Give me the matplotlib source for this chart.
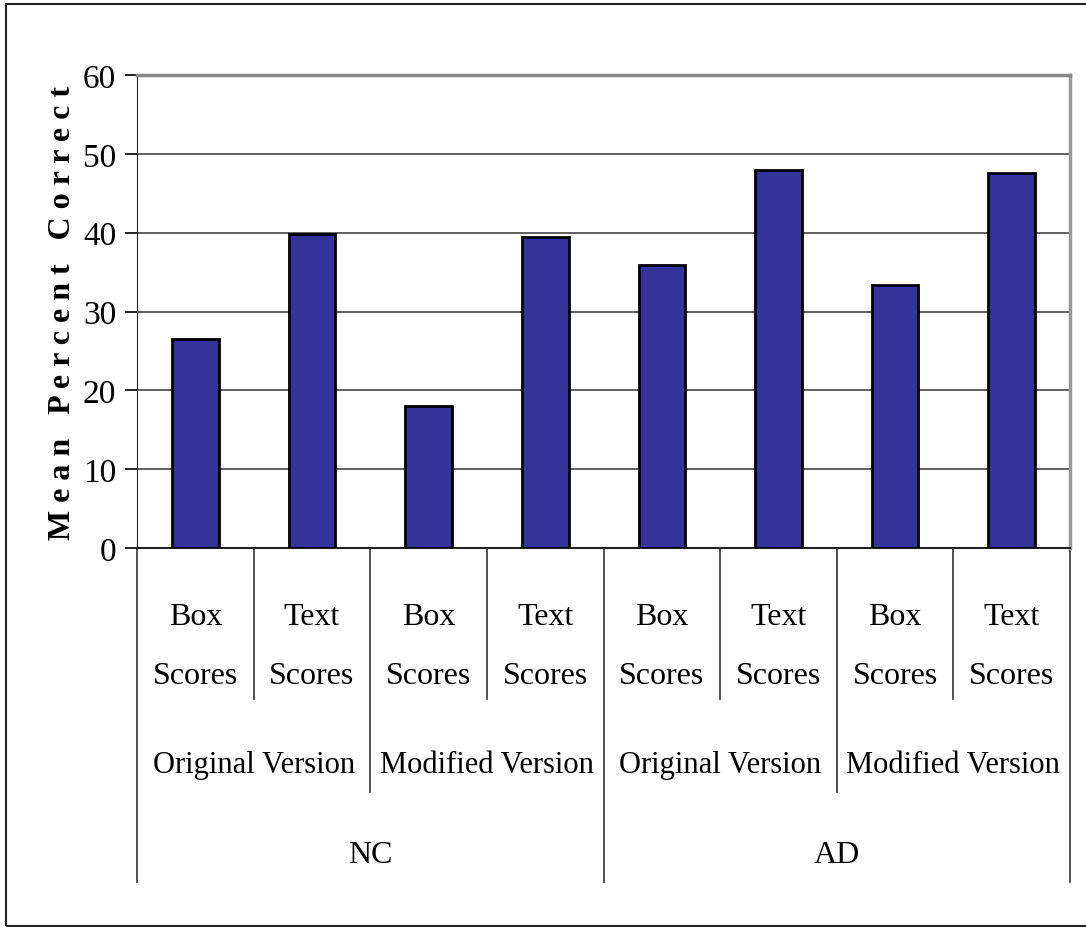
import matplotlib.pyplot as plt
from matplotlib.patches import Rectangle

# mean percent correct for each condition
bar_labels = ["Box\nScores", "Text\nScores"] * 4
versions = ["Original Version", "Modified Version"] * 2
groups = ["NC", "AD"]
values = [26.5, 39.8, 18.0, 39.5, 35.9, 48.0, 33.4, 47.6]
yticks = [0, 10, 20, 30, 40, 50, 60]

plt.rcParams['font.family'] = ['Liberation Serif', 'DejaVu Serif']

fig = plt.figure(figsize=(10.86, 9.28), dpi=100)
ax = fig.add_axes([0.1262, 0.4084, 0.8591, 0.5097])

x = list(range(len(values)))
ax.bar(x, values, width=0.4, color='#333399', edgecolor='black', linewidth=2, zorder=3)

ax.set_xlim(-0.5, len(values) - 0.5)
ax.set_ylim(0, 60)
ax.set_yticks(yticks)
ax.set_yticklabels([str(t) for t in yticks], fontsize=24)
ax.tick_params(axis='y', direction='out', length=9, width=1.2, pad=6)
ax.set_xticks([])
ax.yaxis.grid(True, color='#444444', linewidth=1.2, zorder=0)

ax.spines['left'].set_color('#222222')
ax.spines['bottom'].set_color('#222222')
ax.spines['bottom'].set_linewidth(1.5)
ax.spines['top'].set_color('#888888')
ax.spines['top'].set_linewidth(2.5)
ax.spines['right'].set_color('#999999')
ax.spines['right'].set_linewidth(2.5)

ax.set_ylabel("M e a n   P e r c e n t   C o r r e c t", fontsize=23,
              fontweight='bold', labelpad=4)

# category table below the axis
trans = ax.get_xaxis_transform()
line_kw = dict(color='#333333', linewidth=1.2, clip_on=False, transform=trans)
for i in range(len(values) + 1):
    xb = i - 0.5
    if i % 4 == 0:
        y_end = -0.706
    elif i % 2 == 0:
        y_end = -0.516
    else:
        y_end = -0.319
    ax.plot([xb, xb], [0, y_end], **line_kw)

for i, lab in enumerate(bar_labels):
    top, bottom = lab.split("\n")
    ax.text(i, -0.145, top, transform=trans, ha='center', va='center', fontsize=23)
    ax.text(i, -0.27, bottom, transform=trans, ha='center', va='center', fontsize=23)

for j, lab in enumerate(versions):
    ax.text(2 * j + 0.5, -0.457, lab, transform=trans, ha='center', va='center', fontsize=22)

for k, lab in enumerate(groups):
    ax.text(4 * k + 1.5, -0.647, lab, transform=trans, ha='center', va='center', fontsize=23)

# outer frame of the figure
fig.patches.append(Rectangle((6 / 1086, 1 - 927 / 928), 1.0, (927 - 5) / 928,
                             transform=fig.transFigure, fill=False,
                             edgecolor='#222222', linewidth=1.5))

plt.savefig('out.png', dpi=100)
